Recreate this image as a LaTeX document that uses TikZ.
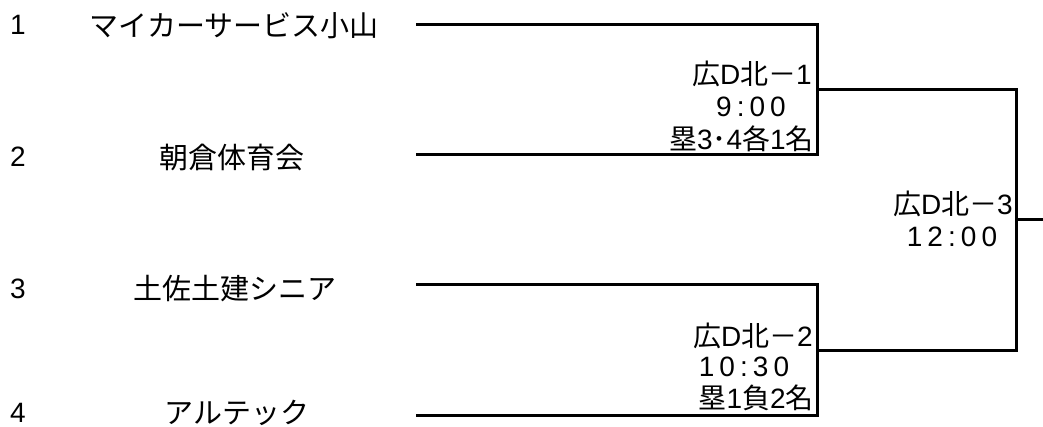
\documentclass[tikz,border=0pt]{standalone}
\usepackage{fontspec}
\setmainfont{Liberation Sans}
\newfontfamily\jp{Noto Sans CJK JP}
\newfontfamily\spc[LetterSpace=18]{Liberation Sans}
\begin{document}
\begin{tikzpicture}[x=1pt,y=-1pt,
  txt/.style={inner sep=0pt,font=\fontsize{28}{28}\selectfont},
  jtxt/.style={txt,font=\fontsize{29}{29}\selectfont\jp},
  bracket/.style={line width=3pt,line cap=rect}]
\useasboundingbox (0,0) rectangle (1043,427);
% numbers
\node[txt] (n1) at (18,25) {1};
\node[txt] (n2) at (18,157) {2};
\node[txt] (n3) at (18,289) {3};
\node[txt] (n4) at (18,413) {4};
% team names
\node[jtxt] (t1) at (234,26) {マイカーサービス小山};
\node[jtxt] (t2) at (232,157) {朝倉体育会};
\node[jtxt] (t3) at (235,289) {土佐土建シニア};
\node[jtxt] (t4) at (237,413) {アルテック};
% line coordinates
\coordinate (s1) at (417,25);
\coordinate (s2) at (417,155);
\coordinate (s3) at (417,285);
\coordinate (s4) at (417,415);
\coordinate (m1a) at (817,25);
\coordinate (m1b) at (817,155);
\coordinate (m1) at (817,90);
\coordinate (m2a) at (817,285);
\coordinate (m2b) at (817,415);
\coordinate (m2) at (817,350);
\coordinate (f1) at (1016,90);
\coordinate (f2) at (1016,350);
\coordinate (f) at (1016,220);
\coordinate (out) at (1043,220);
% brackets
\draw[bracket] (s1) -- (m1a) -- (m1b) -- (s2);
\draw[bracket] (s3) -- (m2a) -- (m2b) -- (s4);
\draw[bracket] (m1) -- (f1) -- (f2) -- (m2);
\draw[bracket] (f) -- (out);
% match labels
\node[txt,anchor=east] (g1a) at (812,74) {{\jp 広}D{\jp 北－}1};
\node[txt] (g1b) at (751,107) {\spc 9:00};
\node[txt,anchor=east] (g1c) at (814,139) {{\jp 塁}3{\jp ･}4{\jp 各}1{\jp 名}};
\node[txt,anchor=east] (g2a) at (813,336) {{\jp 広}D{\jp 北－}2};
\node[txt] (g2b) at (744,367) {\spc 10:30};
\node[txt,anchor=east] (g2c) at (814,398) {{\jp 塁}1{\jp 負}2{\jp 名}};
\node[txt,anchor=east] (g3a) at (1013,204) {{\jp 広}D{\jp 北－}3};
\node[txt] (g3b) at (952,237) {\spc 12:00};
\end{tikzpicture}
\end{document}
